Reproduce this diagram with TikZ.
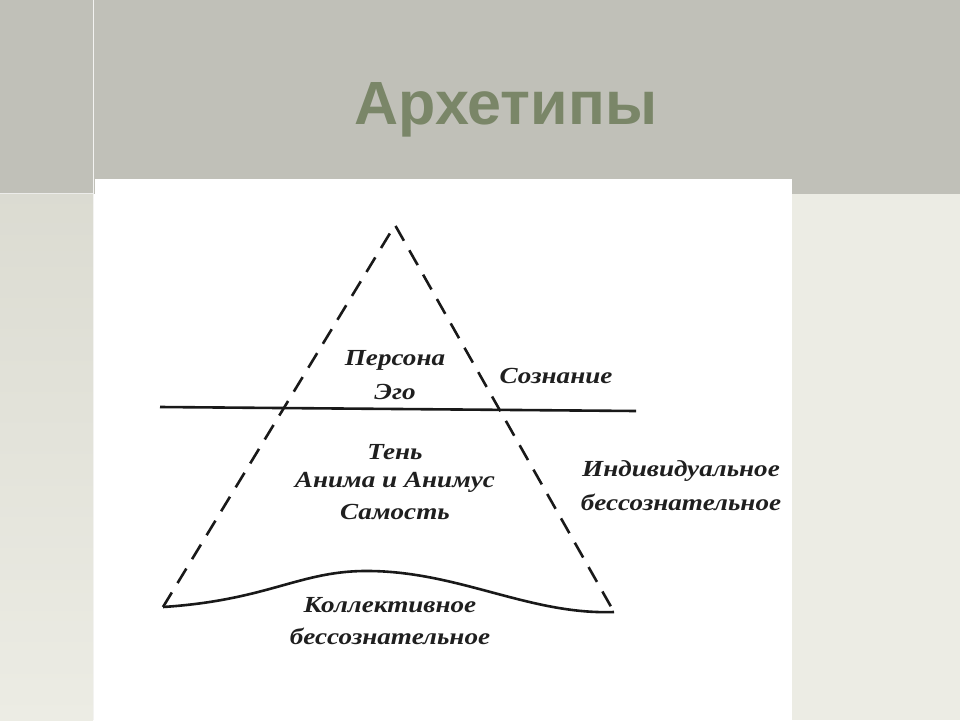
\documentclass[tikz,border=0pt]{standalone}
\usepackage{fontspec}
\setmainfont{Liberation Serif}
\newfontfamily\lblfont[FakeStretch=1.18]{Liberation Serif}
\newfontfamily\titlefont{Liberation Sans}
\definecolor{band}{HTML}{C0C0B8}
\definecolor{leftbg}{HTML}{E0E0D6}
\definecolor{rightbg}{HTML}{ECECE4}
\definecolor{titlec}{HTML}{7A8668}
\tikzset{
  lbl/.style={font=\lblfont\fontsize{23}{26}\selectfont\bfseries\itshape, text=black!88, align=center, inner sep=0pt},
  dashedge/.style={line width=2.6pt, dash pattern=on 17pt off 11pt, black!90},
  solidline/.style={line width=2.6pt, black!90},
}
\begin{document}
\begin{tikzpicture}[x=1pt,y=-1pt]
\useasboundingbox (0,0) rectangle (960,720);
% backgrounds
\fill[band] (0,0) rectangle (960,194);
\shade[top color=leftbg!85!band, bottom color=rightbg] (0,194) rectangle (93,720);
\fill[rightbg] (792,194) rectangle (960,720);
\fill[white] (95,179) rectangle (792,720);
\draw[line width=1.5pt, white!80!band] (93.5,0) -- (93.5,720);
\draw[line width=1.2pt, white!70!band] (0,193.5) -- (93,193.5);
% title
\node[font=\titlefont\fontsize{61}{66}\selectfont\bfseries, text=titlec, inner sep=0pt] (title) at (506,110) {Архетипы};
% triangle corners
\coordinate (apex) at (395,225);
\coordinate (bl) at (163,607);
\coordinate (br) at (614,612);
\coordinate (hl) at (160,407);
\coordinate (hr) at (636,411);
\draw[dashedge] (bl) -- (apex) -- (br);
\draw[solidline] (hl) -- (hr);
\draw[solidline] (bl) .. controls (270,600) and (300,570) .. (370,571) .. controls (460,572) and (530,615) .. (br);
% labels
\node[lbl] (persona) at (395,360) {Персона};
\node[lbl] (ego) at (395,392) {Эго};
\node[lbl] (soznanie) at (556,376) {Сознание};
\node[lbl] (ten) at (395,452) {Тень};
\node[lbl] (anima) at (395,482) {Анима и Анимус};
\node[lbl] (samost) at (395,512) {Самость};
\node[lbl] (indiv) at (681,471) {Индивидуальное};
\node[lbl] (bess1) at (681,502) {бессознательное};
\node[lbl] (koll) at (390,605) {Коллективное};
\node[lbl] (bess2) at (390,636) {бессознательное};
\end{tikzpicture}
\end{document}
